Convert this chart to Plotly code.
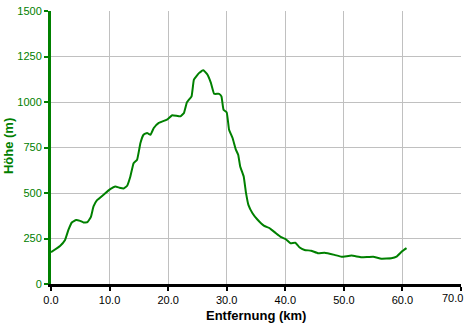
import plotly.graph_objects as go

distance_km = [0, 1.54, 2.4, 2.97, 3.55, 4.29, 4.97, 5.55, 6.23, 6.8, 7.26, 7.83, 8.97, 10.1, 10.98,
               11.7, 12.4, 13.0, 13.55, 14.1, 14.7, 15.27, 15.8, 16.4, 16.98, 17.55, 18.4, 19.8, 20.7,
               22.1, 22.7, 23.2, 24.0, 24.4, 25.3, 26.0, 26.7, 27.3, 27.85, 28.7, 29.1, 29.45, 30.0,
               30.4, 31.0, 31.56, 31.96, 32.3, 32.9, 33.3, 33.7, 34.4, 35.2, 36.4, 37.3, 38.4, 39.3,
               40.1, 40.9, 41.7, 42.4, 43.3, 44.4, 45.6, 46.7, 48.4, 49.6, 51.3, 53.0, 55.0, 56.4,
               58.1, 59.0, 59.9, 60.7]
elevation_m = [175, 209, 242, 297, 338, 352, 347, 338, 340, 367, 426, 459, 490, 521, 536,
               529, 525, 540, 591, 664, 683, 775, 820, 830, 820, 857, 885, 903, 927,
               921, 940, 998, 1031, 1123, 1160, 1175, 1151, 1105, 1045, 1045, 1031, 958, 943,
               848, 802, 738, 710, 646, 591, 499, 435, 389, 356, 319, 307, 279, 257,
               246, 224, 227, 202, 187, 183, 169, 172, 160, 150, 156, 147, 150, 139,
               141, 150, 178, 197]

x_ticks = [0, 10, 20, 30, 40, 50, 60, 70]
x_ticklabels = ["0.0", "10.0", "20.0", "30.0", "40.0", "50.0", "60.0", "70.0"]
y_ticks = [0, 250, 500, 750, 1000, 1250, 1500]

x_title = "Entfernung (km)"
y_title = "Höhe (m)"

green = "#008000"
font = "Liberation Sans"

fig = go.Figure()
fig.add_trace(go.Scatter(x=distance_km, y=elevation_m, mode="lines",
                         line=dict(color=green, width=2, shape="spline", smoothing=0.3),
                         hoverinfo="skip", showlegend=False))

# last x tick label sits flush with the right edge, as in the reference
axis_labels = x_ticklabels[:-1] + [""]

fig.update_layout(
    width=467, height=323,
    margin=dict(l=51, r=6, t=11, b=39),
    paper_bgcolor="white", plot_bgcolor="white",
    font=dict(family=font, size=11),
    xaxis=dict(range=[x_ticks[0], x_ticks[-1]], tickvals=x_ticks, ticktext=axis_labels,
               automargin=False,
               showgrid=True, gridcolor="#c0c0c0", gridwidth=1, zeroline=False,
               showline=True, linecolor="black", linewidth=3,
               ticks="outside", ticklen=4, tickwidth=2, tickcolor="black",
               tickfont=dict(color="black", size=11, family=font)),
    yaxis=dict(range=[y_ticks[0], y_ticks[-1]], tickvals=y_ticks, automargin=False,
               showgrid=True, gridcolor="#c0c0c0", gridwidth=1, zeroline=False,
               showline=True, linecolor=green, linewidth=3,
               ticks="outside", ticklen=4, tickwidth=2, tickcolor=green,
               tickfont=dict(color=green, size=11, family=font)),
    annotations=[
        dict(text=x_ticklabels[-1], xref="x", yref="paper", x=x_ticks[-1], y=0,
             xanchor="right", yanchor="top", xshift=4, yshift=-6, showarrow=False,
             font=dict(color="black", size=11, family=font)),
        dict(text=f"<b>{x_title}</b>", xref="paper", yref="paper", x=0.5, y=-0.1136,
             xanchor="center", yanchor="middle", showarrow=False,
             font=dict(color="black", size=13, family=font)),
        dict(text=f"<b>{y_title}</b>", xref="paper", yref="paper", x=-0.105, y=0.505,
             xanchor="center", yanchor="middle", showarrow=False, textangle=-90,
             font=dict(color=green, size=13, family=font)),
    ],
)

fig.write_html("out.html", config={"displayModeBar": False},
               post_script="document.body.style.margin='0';document.body.style.padding='0';")
